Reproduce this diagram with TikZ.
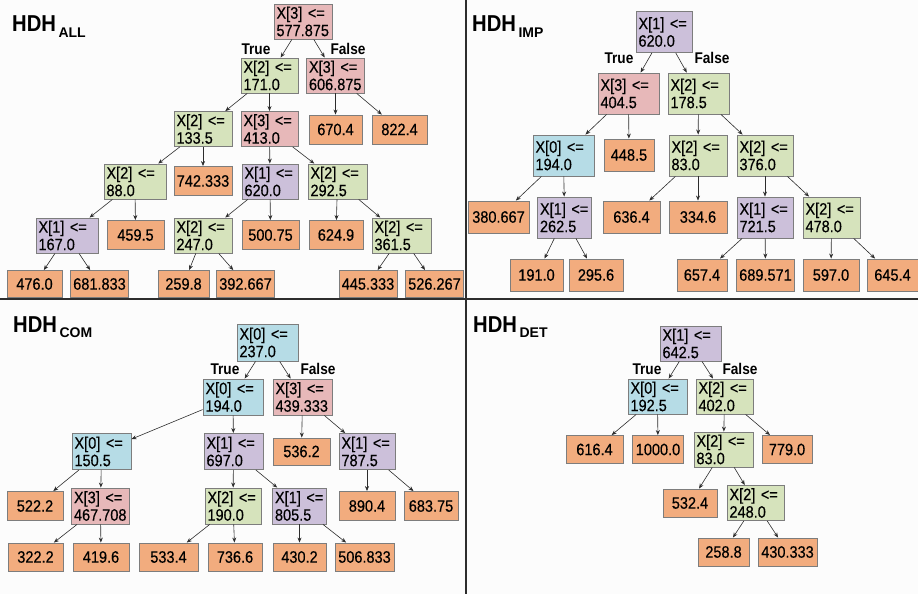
\documentclass[tikz,border=0pt]{standalone}
\usepackage{fontspec}
\usepackage{graphicx}
\setmainfont{Liberation Sans}
\newfontfamily\narrowsans[FakeStretch=0.88]{Liberation Sans}
\newfontfamily\narrowsanstext[FakeStretch=0.88, FakeBold=0.4]{Liberation Sans}
\usetikzlibrary{arrows.meta}

\definecolor{pinkc}{RGB}{231,184,185}
\definecolor{greenc}{RGB}{214,227,188}
\definecolor{purplec}{RGB}{204,192,218}
\definecolor{bluec}{RGB}{182,220,230}
\definecolor{leafc}{RGB}{242,172,126}
\definecolor{boxline}{RGB}{125,125,125}
\definecolor{edgec}{RGB}{45,45,45}
\definecolor{bgc}{RGB}{252,252,252}
\definecolor{sepc}{RGB}{45,45,45}

\newcommand\nodefont{\narrowsanstext\fontsize{16.5}{17.5}\selectfont}
\newcommand\labfont{\narrowsans\fontsize{15.5}{17}\selectfont\bfseries}
\newcommand\hdh[1]{{\narrowsans\fontsize{23}{23}\selectfont\bfseries HDH}\kern2.5pt\raisebox{-5.5pt}{\fontsize{14}{14}\selectfont\bfseries #1}}

\tikzset{
  box/.style={draw=boxline, line width=0.9pt, inner xsep=2.5pt, inner ysep=0pt, font=\nodefont},
  w/.code={\pgfmathsetlengthmacro\boxtw{#1pt-5pt}\tikzset{text width=\boxtw}},
  dec/.style={box, fill=#1, align=left, w=57, decH},
  leaf/.style={box, fill=leafc, align=center, w=53, leafH},
  decH/.style={minimum height=35pt},
  leafH/.style={minimum height=29pt},
  edge/.style={draw=edgec, line width=0.6pt, -{Stealth[length=5pt,width=4pt]}},
  lab/.style={font=\labfont, inner sep=0pt},
  ttl/.style={anchor=base west, inner sep=0pt},
  sep/.style={draw=sepc, line width=1.2pt},
}

\begin{document}
\begin{tikzpicture}[x=1pt, y=-1pt]
\useasboundingbox (0,0) rectangle (918,594);
\fill[bgc] (0,0) rectangle (918,594);

% panel separators
\draw[sep] (0,299) -- (918,299);
\draw[sep] (466,0) -- (466,594);

% ---------------- HDH_ALL ----------------
\node[ttl] (tall) at (12,32) {\hdh{ALL}};
\node[dec=pinkc, w=58]   (a0)  at (303,21.5)   {X[3]~<=\\577.875};
\node[dec=greenc, w=57]  (a1)  at (269.5,75.5) {X[2]~<=\\171.0};
\node[dec=pinkc, w=58]   (a2)  at (335.5,75.5) {X[3]~<=\\606.875};
\node[leaf, w=53]        (a3)  at (335.5,129.5) {670.4};
\node[leaf, w=55]        (a4)  at (399.5,129.5) {822.4};
\node[dec=greenc, w=58]  (a5)  at (203,129)    {X[2]~<=\\133.5};
\node[dec=pinkc, w=57]   (a6)  at (269.5,129)  {X[3]~<=\\413.0};
\node[dec=greenc, w=62]  (a7)  at (135,181.5)  {X[2]~<=\\88.0};
\node[leaf, w=58]        (a8)  at (203,181)    {742.333};
\node[dec=purplec, w=56] (a9)  at (270,181.5)  {X[1]~<=\\620.0};
\node[dec=greenc, w=59]  (a10) at (337.5,181.5) {X[2]~<=\\292.5};
\node[dec=purplec, w=62] (a11) at (67,235.5)   {X[1]~<=\\167.0};
\node[leaf, w=57]        (a12) at (135.5,235)  {459.5};
\node[dec=greenc, w=58]  (a13) at (203,235.5)  {X[2]~<=\\247.0};
\node[leaf, w=57]        (a14) at (270.5,235)  {500.75};
\node[leaf, w=54]        (a15) at (336,235)    {624.9};
\node[dec=greenc, w=59]  (a16) at (401.5,235.5) {X[2]~<=\\361.5};
\node[leaf, w=55, minimum height=27pt] (a17) at (34.5,284)  {476.0};
\node[leaf, w=58, minimum height=27pt] (a18) at (99.5,284)  {681.833};
\node[leaf, w=51, minimum height=27pt] (a19) at (183.5,284) {259.8};
\node[leaf, w=58, minimum height=27pt] (a20) at (245.5,284) {392.667};
\node[leaf, w=58, minimum height=27pt] (a21) at (368,284)   {445.333};
\node[leaf, w=58, minimum height=27pt] (a22) at (434.5,284) {526.267};

\node[lab] (atrue)  at (256,49) {True};
\node[lab] (afalse) at (348,49) {False};

\foreach \p/\c in {a0/a1, a0/a2, a2/a3, a2/a4, a1/a5, a1/a6, a5/a7, a5/a8,
                   a6/a9, a6/a10, a7/a11, a7/a12, a11/a17, a11/a18,
                   a9/a13, a9/a14, a13/a19, a13/a20, a10/a15, a10/a16,
                   a16/a21, a16/a22}
  \draw[edge] (\p) -- (\c);

% ---------------- HDH_IMP ----------------
\begin{scope}[decH/.style={minimum height=41pt}, leafH/.style={minimum height=32pt}]
\node[ttl] (timp) at (472,32) {\hdh{IMP}};
\node[dec=purplec, w=56] (i0)  at (664,32)      {X[1]~<=\\620.0};
\node[dec=pinkc, w=61]   (i1)  at (628.5,93.5)  {X[3]~<=\\404.5};
\node[dec=greenc, w=61]  (i2)  at (698.5,93.5)  {X[2]~<=\\178.5};
\node[dec=bluec, w=61]   (i3)  at (563.5,155.5) {X[0]~<=\\194.0};
\node[leaf, w=50]        (i4)  at (629,155)     {448.5};
\node[dec=greenc, w=58]  (i5)  at (698,155.5)   {X[2]~<=\\83.0};
\node[dec=greenc, w=56]  (i6)  at (765,155.5)   {X[2]~<=\\376.0};
\node[leaf, w=61]        (i7)  at (498.5,217)   {380.667};
\node[dec=purplec, w=54] (i8)  at (564.5,217.5) {X[1]~<=\\262.5};
\node[leaf, w=57]        (i9)  at (631.5,217)   {636.4};
\node[leaf, w=58]        (i10) at (698,217)     {334.6};
\node[dec=purplec, w=56] (i11) at (765,217.5)   {X[1]~<=\\721.5};
\node[dec=greenc, w=57]  (i12) at (831.5,217.5) {X[2]~<=\\478.0};
\node[leaf, w=53]        (i13) at (536.5,275)   {191.0};
\node[leaf, w=54]        (i14) at (596,275)     {295.6};
\node[leaf, w=50]        (i15) at (702,275)     {657.4};
\node[leaf, w=58]        (i16) at (765.5,275)   {689.571};
\node[leaf, w=56]        (i17) at (831,275)     {597.0};
\node[leaf, w=51]        (i18) at (892.5,275)   {645.4};

\node[lab] (itrue)  at (619,58) {True};
\node[lab] (ifalse) at (712,58) {False};
\end{scope}

\foreach \p/\c in {i0/i1, i0/i2, i1/i3, i1/i4, i2/i5, i2/i6, i3/i7, i3/i8,
                   i8/i13, i8/i14, i5/i9, i5/i10, i6/i11, i6/i12,
                   i11/i15, i11/i16, i12/i17, i12/i18}
  \draw[edge] (\p) -- (\c);

% ---------------- HDH_COM ----------------
\begin{scope}[decH/.style={minimum height=36pt}, leafH/.style={minimum height=29pt}]
\node[ttl] (tcom) at (13,332) {\hdh{COM}};
\node[dec=bluec, w=61, minimum height=37pt] (c0) at (267.5,342.5) {X[0]~<=\\237.0};
\node[dec=bluec, w=60]   (c1)  at (233,397)     {X[0]~<=\\194.0};
\node[dec=pinkc, w=59]   (c2)  at (302.5,397)   {X[3]~<=\\439.333};
\node[dec=bluec, w=59]   (c3)  at (101.5,451.5) {X[0]~<=\\150.5};
\node[dec=purplec, w=59] (c4)  at (233.5,451.5) {X[1]~<=\\697.0};
\node[leaf, w=57, minimum height=27pt] (c5) at (301.5,451.5) {536.2};
\node[dec=purplec, w=56] (c6)  at (367,451.5)   {X[1]~<=\\787.5};
\node[leaf, w=56]        (c7)  at (35,506)      {522.2};
\node[dec=pinkc, w=58]   (c8)  at (100.5,506)   {X[3]~<=\\467.708};
\node[dec=greenc, w=56]  (c9)  at (233,506)     {X[2]~<=\\190.0};
\node[dec=purplec, w=54] (c10) at (299.5,506)   {X[1]~<=\\805.5};
\node[leaf, w=56]        (c11) at (367,506)     {890.4};
\node[leaf, w=54]        (c12) at (431,506)     {683.75};
\node[leaf, w=55, minimum height=28pt] (c13) at (35.5,557)  {322.2};
\node[leaf, w=56, minimum height=28pt] (c14) at (101,557)   {419.6};
\node[leaf, w=59, minimum height=28pt] (c15) at (168.5,557) {533.4};
\node[leaf, w=54, minimum height=28pt] (c16) at (235,557)   {736.6};
\node[leaf, w=53, minimum height=28pt] (c17) at (299.5,557) {430.2};
\node[leaf, w=59, minimum height=28pt] (c18) at (364.5,557) {506.833};

\node[lab] (ctrue)  at (225,369) {True};
\node[lab] (cfalse) at (318,369) {False};
\end{scope}

\foreach \p/\c in {c0/c1, c0/c2, c1/c3, c1/c4, c2/c5, c2/c6, c3/c7, c3/c8,
                   c8/c13, c8/c14, c4/c9, c4/c10, c9/c15, c9/c16,
                   c10/c17, c10/c18, c6/c11, c6/c12}
  \draw[edge] (\p) -- (\c);

% ---------------- HDH_DET ----------------
\begin{scope}[decH/.style={minimum height=35pt}, leafH/.style={minimum height=28pt}]
\node[ttl] (tdet) at (473,332) {\hdh{DET}};
\node[dec=purplec, w=61] (d0)  at (690.5,343.5) {X[1]~<=\\642.5};
\node[dec=bluec, w=59]   (d1)  at (657.5,396.5) {X[0]~<=\\192.5};
\node[dec=greenc, w=57]  (d2)  at (724.5,396.5) {X[2]~<=\\402.0};
\node[leaf, w=57]        (d3)  at (594.5,449.5) {616.4};
\node[leaf, w=51]        (d4)  at (658,449.5)   {1000.0};
\node[dec=greenc, w=59]  (d5)  at (723.5,449.5) {X[2]~<=\\83.0};
\node[leaf, w=50]        (d6)  at (787,449.5)   {779.0};
\node[leaf, w=54]        (d7)  at (690,503)     {532.4};
\node[dec=greenc, w=57]  (d8)  at (755.5,503)   {X[2]~<=\\248.0};
\node[leaf, w=51]        (d9)  at (723.5,552)   {258.8};
\node[leaf, w=59]        (d10) at (787.5,552)   {430.333};

\node[lab] (dtrue)  at (647,369) {True};
\node[lab] (dfalse) at (740,369) {False};
\end{scope}

\foreach \p/\c in {d0/d1, d0/d2, d1/d3, d1/d4, d2/d5, d2/d6, d5/d7, d5/d8,
                   d8/d9, d8/d10}
  \draw[edge] (\p) -- (\c);
\end{tikzpicture}
\end{document}
